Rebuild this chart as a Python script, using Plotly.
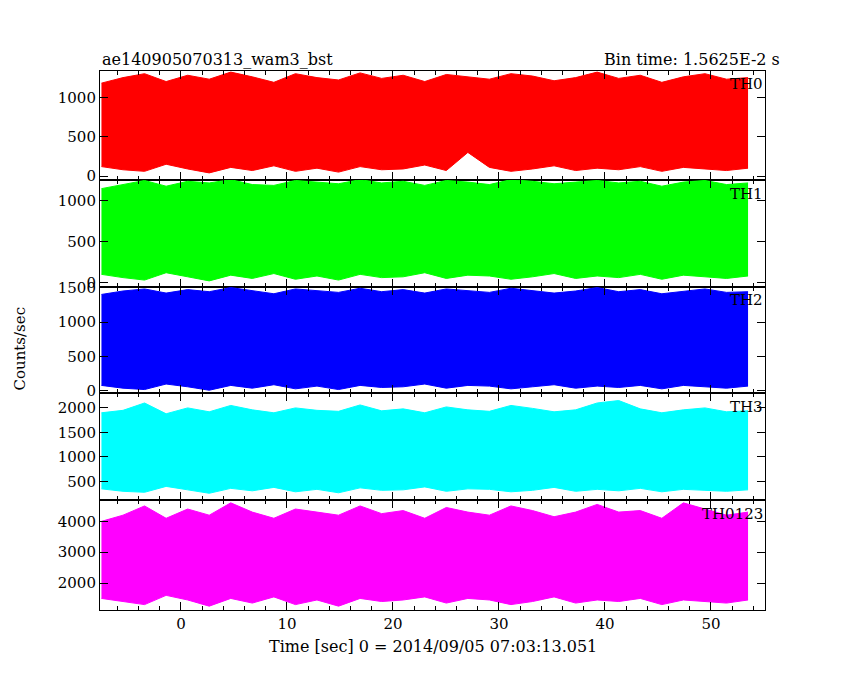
import plotly.graph_objects as go

t = [round(-7.5 + 61.0 / 30 * i, 3) for i in range(31)]
# Upper / lower envelopes per channel (counts/sec)
th0_hi = [1180,1250,1300,1200,1280,1230,1320,1260,1190,1300,1250,1220,1310,1240,1280,1200,1290,1260,1230,1300,1270,1210,1250,1320,1240,1280,1190,1260,1300,1230,1250]
th0_lo = [120,80,60,150,90,40,110,70,130,60,100,50,120,80,90,140,70,300,110,60,90,130,70,100,80,120,60,110,90,70,100]
th1_hi = [1150,1200,1250,1180,1240,1220,1260,1200,1190,1250,1230,1210,1260,1220,1240,1190,1250,1230,1200,1260,1240,1210,1230,1250,1220,1240,1180,1230,1250,1200,1220]
th1_lo = [100,60,30,120,70,20,90,50,110,40,80,30,100,60,70,120,50,90,80,40,70,110,50,80,60,100,40,90,70,50,80]
th2_hi = [1400,1450,1480,1420,1470,1440,1500,1460,1410,1480,1450,1430,1490,1440,1470,1420,1480,1450,1430,1490,1460,1420,1450,1500,1440,1470,1410,1450,1480,1430,1440]
th2_lo = [80,40,20,100,60,10,80,40,90,30,70,20,80,50,60,100,40,80,70,30,60,90,40,70,50,80,30,80,60,40,70]
th3_hi = [1900,1950,2100,1880,2000,1920,2050,1960,1900,2000,1950,1930,2060,1940,1980,1900,2020,1960,1930,2050,1990,1920,1960,2100,2150,1980,1900,1960,2000,1920,1940]
th3_lo = [350,300,280,400,330,260,360,310,380,290,340,270,370,320,330,390,300,350,340,290,320,380,300,340,310,360,290,340,320,300,330]
th0123_hi = [4000,4200,4500,4100,4400,4200,4600,4300,4100,4400,4300,4200,4500,4250,4350,4100,4450,4300,4200,4500,4350,4150,4300,4550,4300,4350,4100,4600,4400,4200,4300]
th0123_lo = [1500,1400,1300,1600,1450,1250,1500,1350,1550,1300,1450,1250,1500,1400,1450,1550,1350,1500,1450,1300,1400,1550,1350,1450,1400,1500,1300,1450,1400,1350,1450]

labels = ["TH0", "TH1", "TH2", "TH3", "TH0123"]
colors = ["#ff0000", "#00ff00", "#0000ff", "#00ffff", "#ff00ff"]
his = [th0_hi, th1_hi, th2_hi, th3_hi, th0123_hi]
los = [th0_lo, th1_lo, th2_lo, th3_lo, th0123_lo]
yranges = [[-50, 1340], [-49, 1256], [-29, 1515], [115, 2305], [1130, 4680]]
yticks = [[0, 500, 1000], [0, 500, 1000], [0, 500, 1000, 1500], [500, 1000, 1500, 2000], [2000, 3000, 4000]]
bounds = [(0.7534, 0.918), (0.5932, 0.7534), (0.4332, 0.5932), (0.2716, 0.4332), (0.107, 0.2716)]
XD = [0.1082, 0.8906]

font = dict(family="DejaVu Serif", size=15, color="black")
fig = go.Figure()
for i in range(5):
    ax = "" if i == 0 else str(i + 1)
    fig.add_trace(go.Scatter(x=t, y=los[i], mode="lines", line=dict(color=colors[i], width=1),
                             xaxis="x" + ax, yaxis="y" + ax, showlegend=False, hoverinfo="skip"))
    fig.add_trace(go.Scatter(x=t, y=his[i], mode="lines", line=dict(color=colors[i], width=1),
                             fill="tonexty", fillcolor=colors[i],
                             xaxis="x" + ax, yaxis="y" + ax, showlegend=False, hoverinfo="skip"))
    common = dict(showline=True, mirror="allticks", linecolor="black", linewidth=1, ticks="inside",
                  tickcolor="black", showgrid=False, zeroline=False, tickfont=font)
    fig.layout["xaxis" + ax] = dict(domain=XD, range=[-7.64, 55.1], anchor="y" + ax,
                                   dtick=10, ticklen=8, showticklabels=(i == 4),
                                   minor=dict(ticks="inside", dtick=2, ticklen=4, tickcolor="black"), **common)
    if i > 0:
        fig.layout["xaxis" + ax]["matches"] = "x"
    fig.layout["yaxis" + ax] = dict(domain=list(bounds[i]), range=yranges[i], anchor="x" + ax,
                                   tickvals=yticks[i], ticklen=8, **common)
    fig.add_annotation(text=labels[i], x=XD[1], xref="paper", xanchor="right", y=bounds[i][1] - 0.004,
                       yref="paper", yanchor="top", showarrow=False, font=font)

fig.add_annotation(text="ae140905070313_wam3_bst", x=XD[0], xref="paper", xanchor="left",
                   y=bounds[0][1], yref="paper", yanchor="bottom", showarrow=False,
                   font=dict(family="DejaVu Serif", size=16, color="black"))
fig.add_annotation(text="Bin time: 1.5625E-2 s", x=0.91, xref="paper", xanchor="right",
                   y=bounds[0][1], yref="paper", yanchor="bottom", showarrow=False,
                   font=dict(family="DejaVu Serif", size=16, color="black"))
fig.add_annotation(text="Counts/sec", x=0.0, xref="paper", xanchor="left", y=0.5, yref="paper", textangle=-90,
                   showarrow=False, font=font)
fig.add_annotation(text="Time [sec] 0 = 2014/09/05 07:03:13.051", x=0.5, xref="paper",
                   y=0.035, yref="paper", showarrow=False,
                   font=dict(family="DejaVu Serif", size=16, color="black"))

fig.update_layout(width=850, height=680, margin=dict(l=0, r=0, t=0, b=0),
                  plot_bgcolor="white", paper_bgcolor="white")
fig.write_html("out.html")
